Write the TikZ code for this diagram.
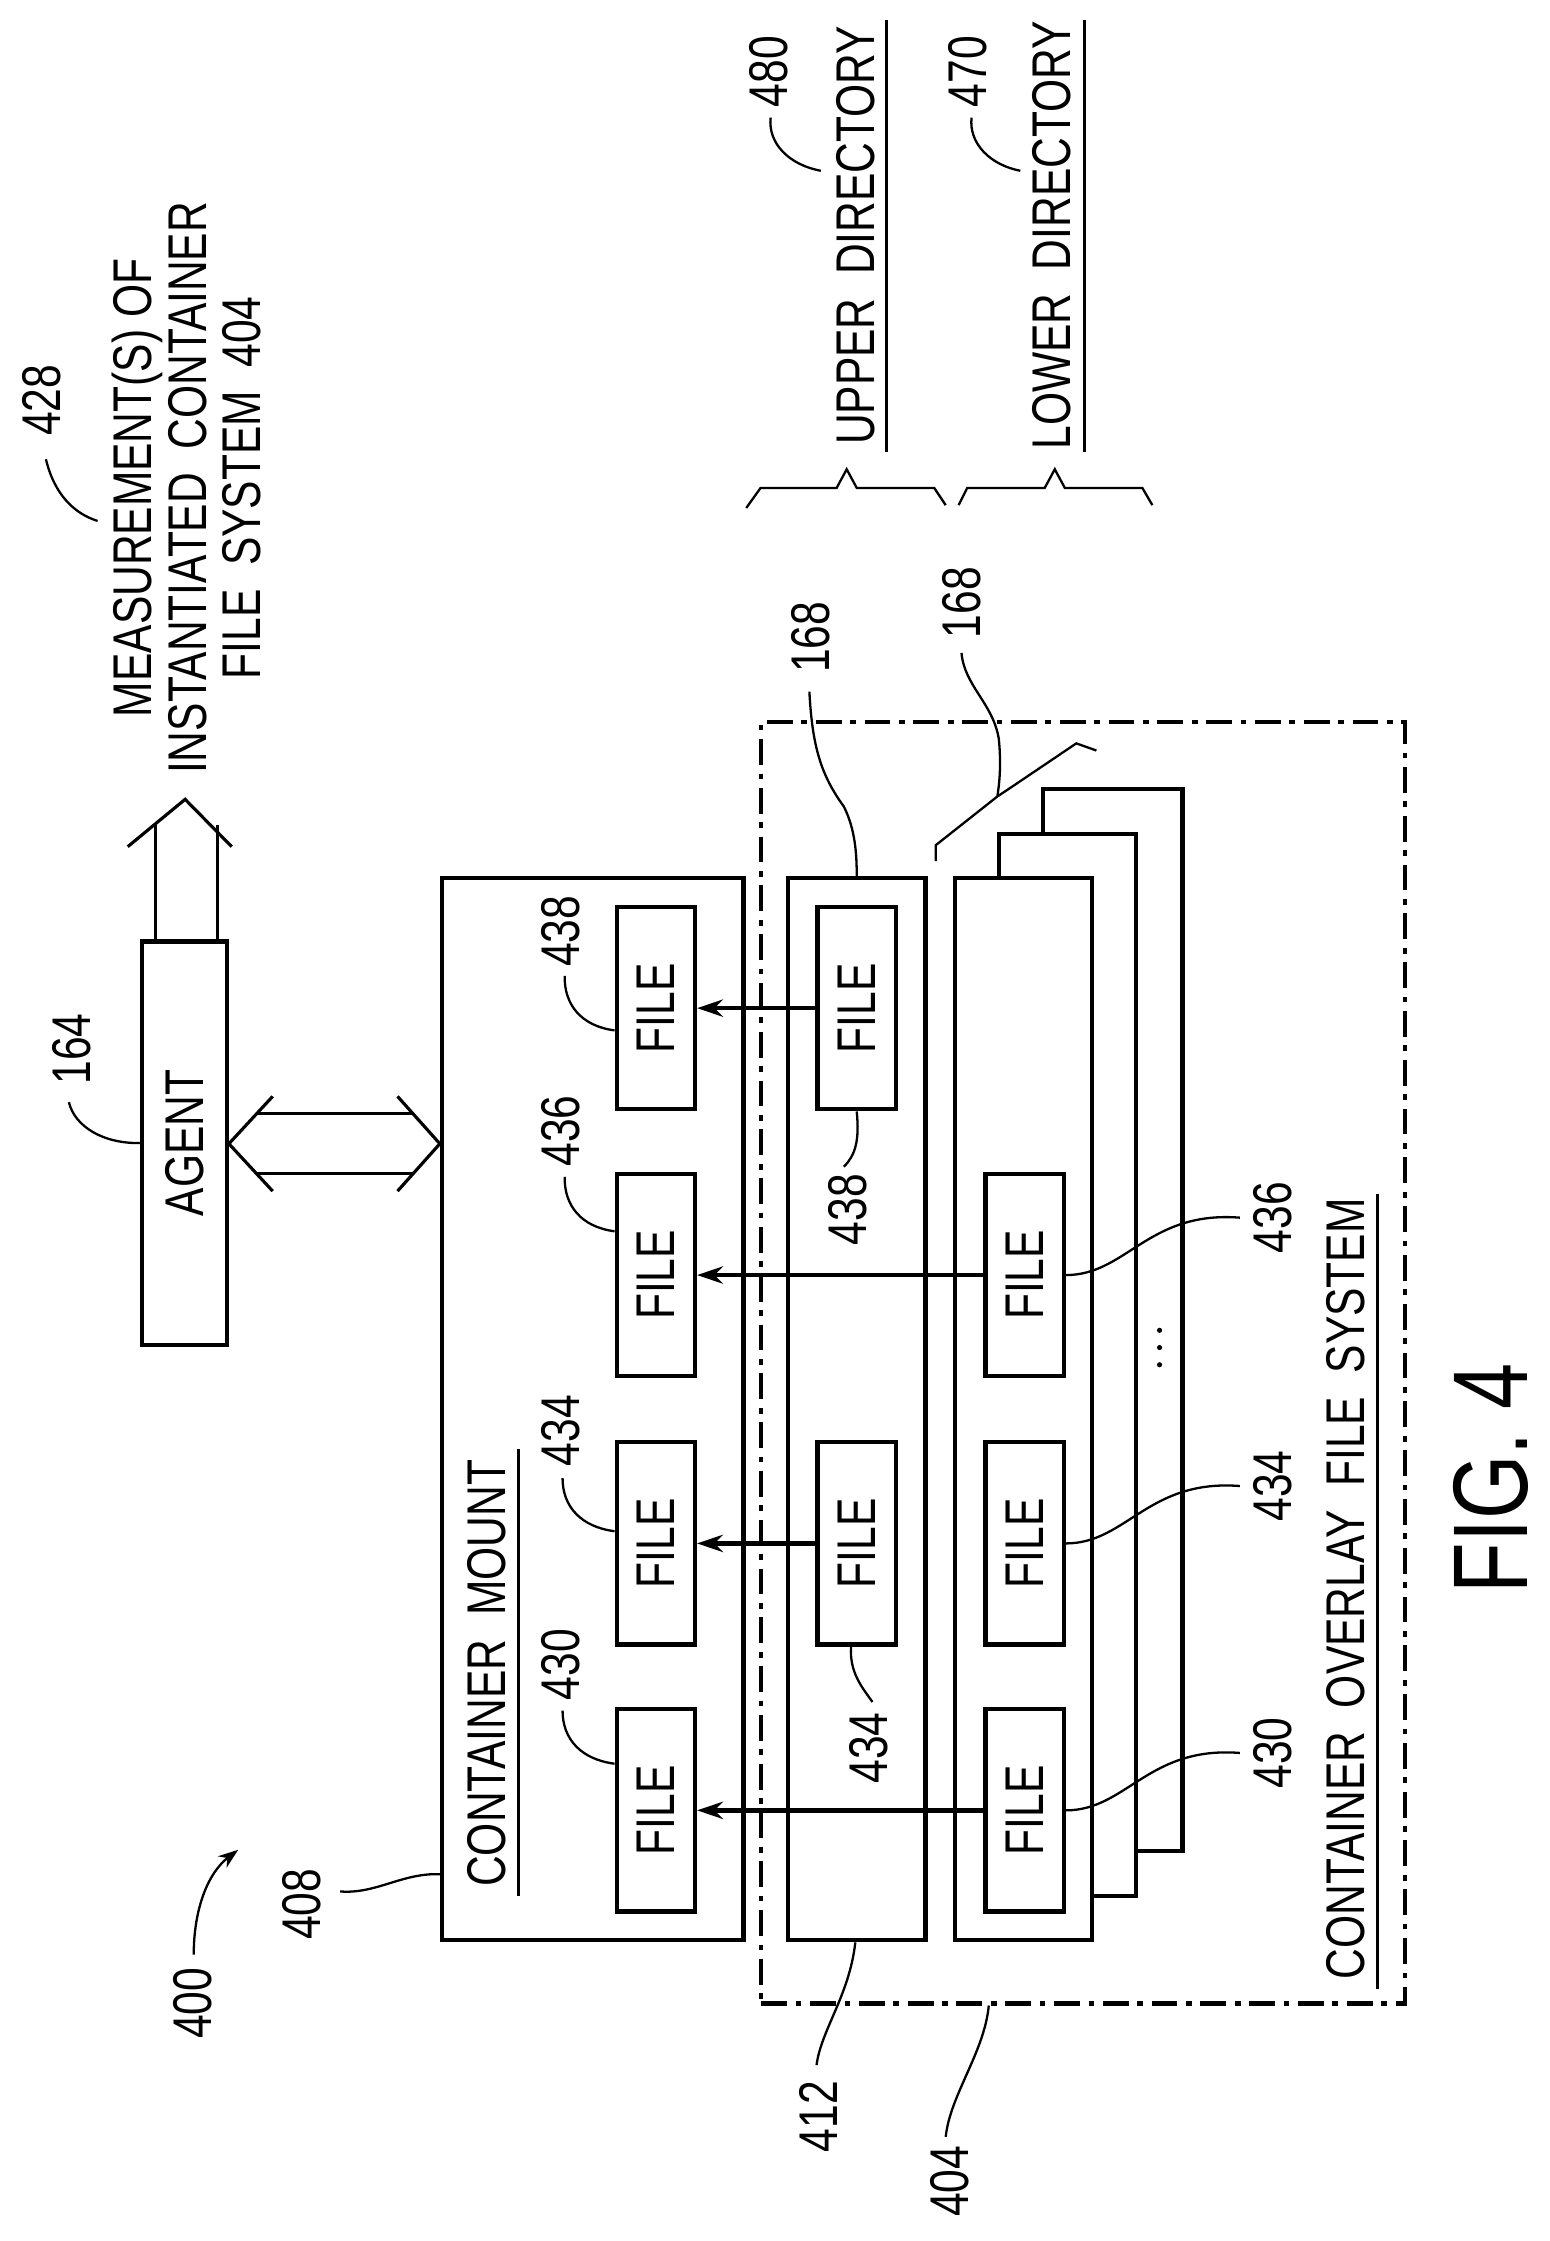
\documentclass[tikz,border=0pt]{standalone}
\usepackage{fontspec}
\setmainfont{Liberation Sans}[FakeStretch=0.78]
\usetikzlibrary{arrows.meta}
\begin{document}
\begin{tikzpicture}[x=0.5pt,y=-0.5pt,
  box/.style={draw,line width=1.5pt,fill=white,inner sep=0pt},
  file/.style={box,minimum width=27.25pt,minimum height=70.5pt},
  lbl/.style={rotate=90,inner sep=0pt,font=\fontsize{19}{19}\selectfont},
  lead/.style={line width=0.8pt},
  flow/.style={line width=1.6pt,-{Stealth[length=9pt,width=6pt]}},
  hollow/.style={line width=1.1pt}]
\useasboundingbox (0,0) rectangle (1080,1561.6);
% container overlay (dash-dot)
\node[draw,line width=1.5pt,dash pattern=on 9pt off 3pt on 2pt off 3pt,minimum width=224.25pt,minimum height=446.5pt,inner sep=0pt] (ofs) at (754.75,949.5) {};
% stacked lower layers
\node[box,minimum width=48.5pt,minimum height=370pt] (ly2) at (775.5,920) {};
\node[box,minimum width=47.75pt,minimum height=370pt] (ly1) at (744,951) {};
\node[box,minimum width=47.75pt,minimum height=370pt] (low) at (713,982) {};
\node[box,minimum width=48pt,minimum height=370pt] (up) at (597,982) {};
\node[box,minimum width=105pt,minimum height=370pt] (mnt) at (413,982) {};
% agent
\node[box,minimum width=29.5pt,minimum height=140.5pt] (agent) at (128.5,796.5) {\rotatebox{90}{\fontsize{19}{19}\selectfont AGENT}};
% files
\foreach \n/\y in {438/702.5,436/888.5,434/1075.5,430/1261.5}{
  \node[file] (m\n) at (457,\y) {\rotatebox{90}{\fontsize{19}{19}\selectfont FILE}};}
\foreach \n/\y in {438/702.5,434/1075.5}{
  \node[file] (u\n) at (597,\y) {\rotatebox{90}{\fontsize{19}{19}\selectfont FILE}};}
\foreach \n/\y in {436/888.5,434/1075.5,430/1261.5}{
  \node[file] (l\n) at (714,\y) {\rotatebox{90}{\fontsize{19}{19}\selectfont FILE}};}
\draw[flow] (u438.west) -- (m438.east);
\draw[flow] (u434.west) -- (m434.east);
\draw[flow] (l436.west) -- (m436.east);
\draw[flow] (l430.west) -- (m430.east);
% hollow double arrow agent <-> mount
\coordinate (dl) at (agent.east |- 0,797);
\coordinate (dr) at (mnt.west |- 0,797);
\draw[hollow] (178.6,776) -- (288,776) (178.6,818) -- (288,818);
\draw[hollow] (190,764) -- (dl) -- (190,830);
\draw[hollow] (277,764) -- (dr) -- (277,830);
% hollow up arrow
\coordinate (ut) at (129,557);
\draw[hollow] (108.6,656) -- (108.6,575) (151.4,656) -- (151.4,575);
\draw[hollow] (89,590) -- (ut) -- (161.5,590);
% texts
\node[lbl,align=center] (meas) at (130,340) {MEASUREMENT(S) OF\\INSTANTIATED\ \ CONTAINER\\FILE\ \ SYSTEM\ \ 404};
\node[lbl] (t428) at (29,279) {428};
\draw[lead] (32,320) .. controls (38,345) and (52,358) .. (68,363);
\node[lbl] (t164) at (50,731) {164};
\draw[lead] (48,768) .. controls (52,785) and (72,797) .. (agent.west);
\node[lbl] (cm) at (339,1166) {CONTAINER\ \ MOUNT};
\draw[line width=1pt] (361.4,1010) -- (361.4,1321);
\node[lbl] (cofs) at (938,1107) {CONTAINER\ \ OVERLAY\ \ FILE\ \ SYSTEM};
\draw[line width=1pt] (960,832) -- (960,1386);
\node[lbl] (ud) at (596,164) {UPPER\ \ DIRECTORY};
\draw[line width=1pt] (617.5,14) -- (617.5,315);
\node[lbl] (ld) at (733,164) {LOWER\ \ DIRECTORY};
\draw[line width=1pt] (756,14) -- (756,315);
\node[lbl] (t480) at (536,50) {480};
\draw[lead] (537,82) .. controls (535,100) and (550,115) .. (572,119);
\node[lbl] (t470) at (674,50) {470};
\draw[lead] (677,82) .. controls (675,100) and (690,115) .. (711,119);
% braces
\draw[lead] (520,354) -- (530,340) -- (583,340) -- (590,327) -- (597,340) -- (651,340) -- (659,352);
\draw[lead] (668,352) -- (674,340) -- (728,340) -- (735,327) -- (742,340) -- (796,340) -- (803,352);
% 168 labels
\node[lbl] (t168a) at (565,444) {168};
\draw[lead] (564,482) .. controls (566,520) and (572,540) .. (588,562) .. controls (596,578) and (597,595) .. (up.north -| 597,0);
\node[lbl] (t168b) at (670,420) {168};
\coordinate (cusp) at (695,555);
\draw[lead] (670,455) .. controls (672,478) and (692,490) .. (696,515) .. controls (698,535) and (696,548) .. (cusp);
\draw[lead] (652,600) -- (652,589) -- (cusp) -- (707,547) -- (750,518) -- (764,523);
% file labels in mount
\foreach \n/\ly in {438/649,436/788,434/997,430/1160}{
  \node[lbl] (ml\n) at (391,\ly) {\n};}
\draw[lead] (393.5,680) .. controls (393,700) and (405,715) .. (m438.west |- 0,718);
\draw[lead] (393.5,820) .. controls (393,840) and (405,855) .. (m436.west |- 0,858);
\draw[lead] (392,1030) .. controls (392,1050) and (405,1064) .. (m434.west |- 0,1067);
\draw[lead] (392,1192) .. controls (392,1212) and (405,1226) .. (m430.west |- 0,1229);
% upper labels
\node[lbl] (ul438) at (591,843) {438};
\draw[lead] (u438.south -| 597,0) .. controls (599,795) and (596,805) .. (588,813);
\node[lbl] (ul434) at (605,1218) {434};
\draw[lead] (u434.south -| 593,0) .. controls (592,1165) and (600,1175) .. (608,1186);
% lower labels
\foreach \n/\yy in {436/888.5,434/1075.5,430/1261.5}{
  \pgfmathsetmacro\ya{\yy-40}
  \node[lbl] (ll\n) at (887,\ya) {\n};
  \draw[lead] (l\n.east) .. controls (785,\yy) and (800,\ya-5) .. (864,\ya);}
% ellipsis
\foreach \d in {927,939,951}{\fill (808,\d) circle (1.8);}
% references bottom
\node[lbl] (t408) at (210,1327) {408};
\draw[lead] (237,1318) .. controls (262,1320) and (280,1305) .. (mnt.west |- 0,1306);
\node[lbl] (t400) at (134,1396) {400};
\draw[lead,-{Stealth[length=7pt,width=5pt]}] (135,1362) .. controls (135,1330) and (145,1305) .. (166,1289);
\node[lbl] (t412) at (570,1475) {412};
\draw[lead] (569,1439) .. controls (572,1415) and (592,1390) .. (up.south -| 596,0);
\node[lbl] (t404) at (662,1520) {404};
\draw[lead] (659,1489) .. controls (662,1460) and (686,1430) .. (ofs.south -| 689,0);
\node[rotate=90,inner sep=0pt,font=\fontsize{37}{37}\selectfont] (fig) at (1039,1030) {FIG.\ 4};
\end{tikzpicture}
\end{document}
